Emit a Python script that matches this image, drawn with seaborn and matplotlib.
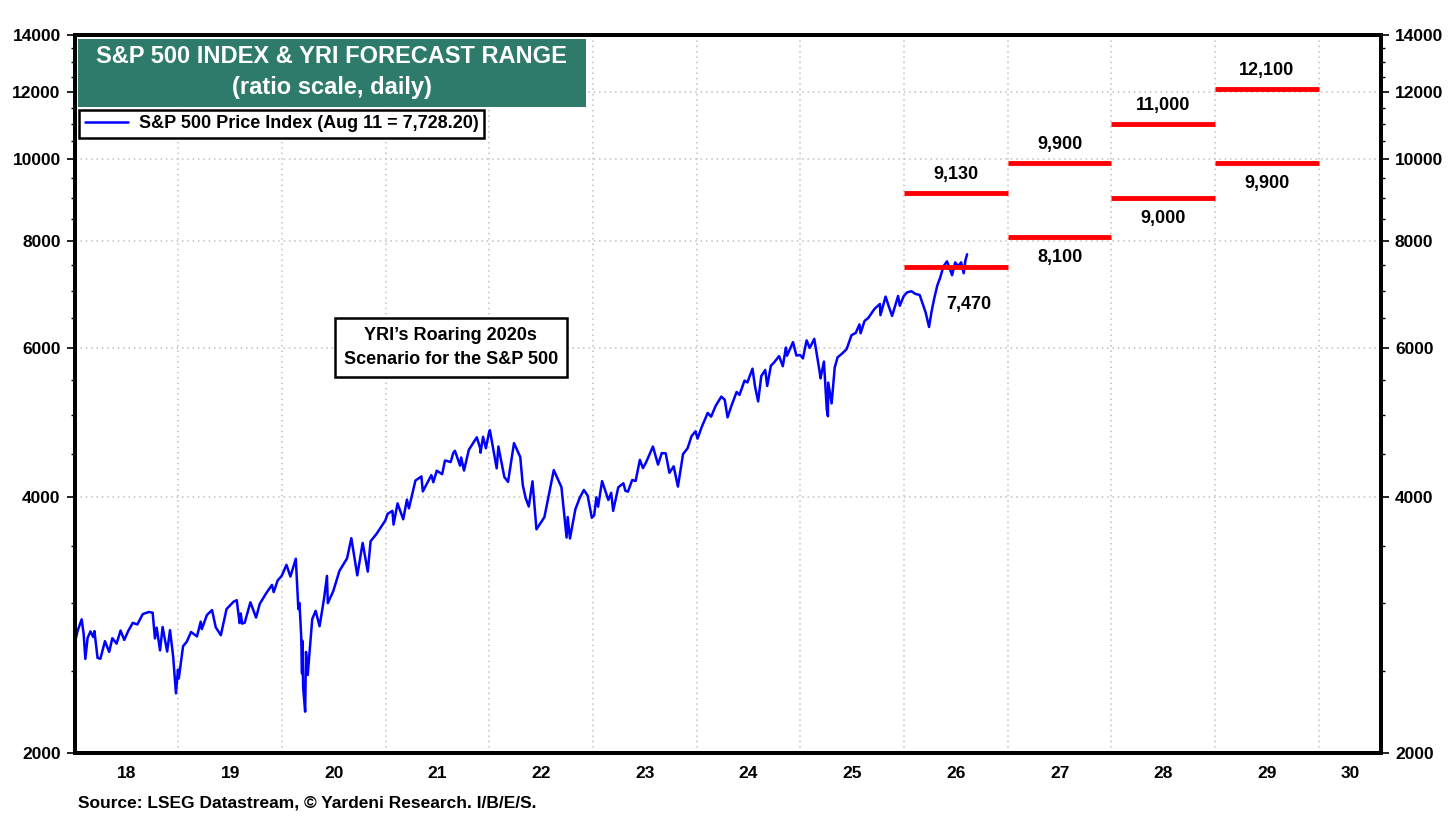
import pandas as pd
import numpy as np
import matplotlib
matplotlib.use("Agg")
import matplotlib.pyplot as plt
import matplotlib.transforms as mtransforms
from matplotlib.patches import Rectangle
from matplotlib.ticker import FixedLocator, NullFormatter
import seaborn as sns

# -------------------------------
# DATA
# -------------------------------
dates = [
    "2018-01-02", "2018-01-12", "2018-01-26", "2018-02-02", "2018-02-08", "2018-02-16", "2018-02-26",
    "2018-03-08", "2018-03-12", "2018-03-23", "2018-04-02", "2018-04-18", "2018-05-03", "2018-05-14",
    "2018-05-29", "2018-06-12", "2018-06-25", "2018-07-09", "2018-07-25", "2018-08-10", "2018-08-29",
    "2018-09-20", "2018-10-03", "2018-10-11", "2018-10-17", "2018-10-29", "2018-11-07", "2018-11-23",
    "2018-12-03", "2018-12-14", "2018-12-24", "2018-12-31",
    "2019-01-03", "2019-01-18", "2019-01-31", "2019-02-15", "2019-03-08", "2019-03-21", "2019-03-25",
    "2019-04-12", "2019-04-30", "2019-05-13", "2019-05-31", "2019-06-20", "2019-07-15", "2019-07-26",
    "2019-08-05", "2019-08-09", "2019-08-14", "2019-08-23", "2019-09-12", "2019-10-02", "2019-10-15",
    "2019-11-07", "2019-11-27", "2019-12-03", "2019-12-17", "2019-12-31",
    "2020-01-17", "2020-01-31", "2020-02-19", "2020-02-28", "2020-03-03", "2020-03-09", "2020-03-12",
    "2020-03-13", "2020-03-16", "2020-03-23", "2020-03-26", "2020-04-01", "2020-04-17", "2020-04-29",
    "2020-05-13", "2020-05-29", "2020-06-08", "2020-06-11", "2020-06-30", "2020-07-22", "2020-08-18",
    "2020-09-02", "2020-09-23", "2020-10-12", "2020-10-30", "2020-11-09", "2020-11-30", "2020-12-31",
    "2021-01-08", "2021-01-25", "2021-01-29", "2021-02-12", "2021-03-04", "2021-03-17", "2021-03-24",
    "2021-04-16", "2021-05-07", "2021-05-12", "2021-06-11", "2021-06-18", "2021-06-30", "2021-07-19",
    "2021-07-29", "2021-08-18", "2021-08-27", "2021-09-02", "2021-09-20", "2021-09-24", "2021-10-04",
    "2021-10-21", "2021-11-18", "2021-11-30", "2021-12-01", "2021-12-10", "2021-12-20", "2021-12-31",
    "2022-01-03", "2022-01-27", "2022-02-02", "2022-02-23", "2022-03-08", "2022-03-29", "2022-04-20",
    "2022-04-29", "2022-05-09", "2022-05-20", "2022-06-02", "2022-06-16", "2022-07-14", "2022-08-16",
    "2022-09-12", "2022-09-30", "2022-10-04", "2022-10-12", "2022-10-31", "2022-11-15", "2022-11-30",
    "2022-12-13", "2022-12-28",
    "2023-01-05", "2023-01-13", "2023-01-19", "2023-02-02", "2023-02-24", "2023-03-06", "2023-03-13",
    "2023-03-31", "2023-04-18", "2023-04-25", "2023-05-04", "2023-05-19", "2023-05-31", "2023-06-15",
    "2023-06-26", "2023-07-07", "2023-07-31", "2023-08-18", "2023-08-31", "2023-09-14", "2023-09-27",
    "2023-10-12", "2023-10-27", "2023-11-14", "2023-11-30", "2023-12-14", "2023-12-28",
    "2024-01-04", "2024-01-19", "2024-02-09", "2024-02-21", "2024-03-08", "2024-03-28", "2024-04-09",
    "2024-04-19", "2024-05-03", "2024-05-21", "2024-05-31", "2024-06-18", "2024-06-28", "2024-07-16",
    "2024-07-25", "2024-08-05", "2024-08-16", "2024-08-30", "2024-09-06", "2024-09-19", "2024-09-30",
    "2024-10-18", "2024-10-31", "2024-11-11", "2024-11-15", "2024-12-06", "2024-12-18", "2024-12-31",
    "2025-01-10", "2025-01-23", "2025-02-03", "2025-02-19", "2025-03-10", "2025-03-13", "2025-03-25",
    "2025-04-04", "2025-04-08", "2025-04-09", "2025-04-21", "2025-05-02", "2025-05-12", "2025-05-30",
    "2025-06-13", "2025-06-30", "2025-07-15", "2025-07-28", "2025-08-01", "2025-08-15", "2025-08-28",
    "2025-09-19", "2025-10-08", "2025-10-10", "2025-10-28", "2025-11-07", "2025-11-20", "2025-12-11",
    "2025-12-17", "2025-12-31",
    "2026-01-12", "2026-01-27", "2026-02-10", "2026-02-25", "2026-03-06", "2026-03-18", "2026-03-30",
    "2026-04-08", "2026-04-17", "2026-04-28", "2026-05-08", "2026-05-20", "2026-06-01", "2026-06-10",
    "2026-06-19", "2026-06-30", "2026-07-10", "2026-07-21", "2026-07-30", "2026-08-05", "2026-08-11",
]
sp500 = [
    2695, 2786, 2873, 2762, 2581, 2732, 2780,
    2738, 2783, 2588, 2582, 2708, 2630, 2730,
    2690, 2787, 2717, 2784, 2846, 2833, 2914,
    2931, 2925, 2728, 2809, 2641, 2814, 2633,
    2790, 2600, 2351, 2507,
    2448, 2671, 2704, 2776, 2743, 2855, 2798,
    2907, 2946, 2812, 2752, 2954, 3014, 3026,
    2844, 2919, 2840, 2847, 3009, 2887, 2996,
    3085, 3154, 3093, 3193, 3231,
    3330, 3226, 3386, 2954, 3003, 2747, 2481,
    2711, 2386, 2237, 2630, 2471, 2875, 2940,
    2820, 3044, 3232, 3002, 3100, 3276, 3390,
    3580, 3237, 3534, 3270, 3550, 3622, 3756,
    3824, 3855, 3714, 3934, 3768, 3974, 3881,
    4185, 4232, 4063, 4247, 4166, 4298, 4258,
    4419, 4400, 4509, 4537, 4358, 4455, 4300,
    4549, 4705, 4567, 4513, 4712, 4568, 4766,
    4797, 4326, 4589, 4225, 4170, 4632, 4460,
    4132, 3991, 3901, 4176, 3667, 3790, 4305,
    4110, 3586, 3791, 3577, 3872, 3991, 4080,
    4019, 3783,
    3808, 3999, 3899, 4179, 3970, 4048, 3855,
    4109, 4154, 4071, 4061, 4191, 4180, 4426,
    4328, 4398, 4589, 4370, 4508, 4505, 4274,
    4349, 4117, 4496, 4568, 4720, 4783,
    4688, 4840, 5027, 4976, 5124, 5254, 5209,
    4967, 5128, 5321, 5278, 5487, 5460, 5667,
    5400, 5186, 5554, 5648, 5408, 5713, 5762,
    5864, 5705, 6001, 5870, 6090, 5872, 5882,
    5827, 6119, 5994, 6144, 5615, 5521, 5777,
    5074, 4982, 5457, 5158, 5686, 5844, 5912,
    5977, 6205, 6244, 6389, 6238, 6450, 6502,
    6664, 6753, 6552, 6890, 6728, 6538, 6901,
    6721, 6900,
    6970, 6990, 6940, 6920, 6780, 6600, 6345,
    6620, 6850, 7100, 7250, 7480, 7580, 7450,
    7300, 7560, 7480, 7560, 7340, 7600, 7728,
]

forecast_years = [2026, 2027, 2028, 2029]
forecast_high = [9130, 9900, 11000, 12100]
forecast_low = [7470, 8100, 9000, 9900]

year_labels = ["18", "19", "20", "21", "22", "23", "24", "25", "26", "27", "28", "29", "30"]
y_ticks = [2000, 4000, 6000, 8000, 10000, 12000, 14000]

# -------------------------------
# PREP
# -------------------------------
d = pd.to_datetime(pd.Series(dates))
df = pd.DataFrame({
    "year": d.dt.year + (d.dt.dayofyear - 1) / np.where(d.dt.is_leap_year, 366, 365),
    "sp500": sp500,
})

# -------------------------------
# PLOT
# -------------------------------
sns.set_style("white")
plt.rcParams["font.family"] = ["Liberation Sans", "DejaVu Sans"]
plt.rcParams["font.weight"] = "bold"
plt.rcParams["text.color"] = "black"
plt.rcParams["xtick.color"] = "black"
plt.rcParams["ytick.color"] = "black"
plt.rcParams["axes.labelcolor"] = "black"

fig = plt.figure(figsize=(14.56, 8.19), dpi=100)
ax = fig.add_axes([0.0512, 0.0806, 0.8973, 0.8767])

sns.lineplot(data=df, x="year", y="sp500", ax=ax,
             color="#0000ff", lw=1.8, label="S&P 500 Price Index (Aug 11 = 7,728.20)")

ax.set_yscale("log")
ax.set_ylim(2000, 14000)
ax.set_xlim(2018.0, 2030.6)

# forecast ranges
ax.hlines(forecast_high, forecast_years, [y + 1 for y in forecast_years], color="#ff0000", lw=3.5, zorder=4)
ax.hlines(forecast_low, forecast_years, [y + 1 for y in forecast_years], color="#ff0000", lw=3.5, zorder=4)
for yr, hi, lo in zip(forecast_years, forecast_high, forecast_low):
    ax.annotate(f"{hi:,}", (yr + 0.5, hi), xytext=(0, 13), textcoords="offset points",
                ha="center", va="center", fontsize=13, fontweight="bold", color="black")
    if yr == forecast_years[0]:
        ax.annotate(f"{lo:,}", (yr + 0.5, lo), xytext=(9, -27), textcoords="offset points",
                    ha="center", va="center", fontsize=13, fontweight="bold", color="black")
    else:
        ax.annotate(f"{lo:,}", (yr + 0.5, lo), xytext=(0, -15), textcoords="offset points",
                    ha="center", va="center", fontsize=13, fontweight="bold", color="black")

# grid
for yr in range(2019, 2031):
    ax.axvline(yr, color="#c0c0c0", ls=(0, (1, 2.5)), lw=1.1, zorder=0)
for v in y_ticks[1:-1]:
    ax.axhline(v, color="#c0c0c0", ls=(0, (1, 2.5)), lw=1.1, zorder=0)

# x axis
ax.set_xticks(range(2018, 2031))
ax.set_xticklabels([])
ax.xaxis.set_minor_locator(FixedLocator([2018 + q / 4 for q in range(0, 51) if q % 4 != 0]))
ax.tick_params(axis="x", which="major", length=8, width=1.5, direction="out")
ax.tick_params(axis="x", which="minor", length=4, width=1.2, direction="out")
trans = mtransforms.blended_transform_factory(ax.transData, ax.transAxes)
for i, lab in enumerate(year_labels):
    xpos = 2018 + i + 0.5 if lab != "30" else 2030.3
    ax.text(xpos, -0.029, lab, transform=trans, ha="center", va="center",
            fontsize=12.5, fontweight="bold", color="black")
ax.set_xlabel("")
ax.set_ylabel("")

# y axes
minor_y = [v for v in range(2500, 14000, 500) if v not in y_ticks]
ax.yaxis.set_major_locator(FixedLocator(y_ticks))
ax.set_yticklabels([str(v) for v in y_ticks], fontsize=12.5, fontweight="bold")
ax.yaxis.set_minor_locator(FixedLocator(minor_y))
ax.yaxis.set_minor_formatter(NullFormatter())
ax.tick_params(axis="y", which="major", length=6, width=1.2, pad=4)
ax.tick_params(axis="y", which="minor", length=3, width=1)

ax2 = ax.twinx()
ax2.set_yscale("log")
ax2.set_ylim(2000, 14000)
ax2.yaxis.set_major_locator(FixedLocator(y_ticks))
ax2.set_yticklabels([str(v) for v in y_ticks], fontsize=12.5, fontweight="bold")
ax2.yaxis.set_minor_locator(FixedLocator(minor_y))
ax2.yaxis.set_minor_formatter(NullFormatter())
ax2.tick_params(axis="y", which="major", length=6, width=1.2, pad=4)
ax2.tick_params(axis="y", which="minor", length=3, width=1)

for a in (ax, ax2):
    for s in a.spines.values():
        s.set_linewidth(2.8)
        s.set_color("black")

# title box
ax.add_patch(Rectangle((0.0027, 0.8997), 0.3888, 0.0947, transform=ax.transAxes,
                       facecolor="#2e7b6c", edgecolor="none", zorder=5))
ax.text(0.197, 0.9694, "S&P 500 INDEX & YRI FORECAST RANGE", transform=ax.transAxes,
        ha="center", va="center", color="white", fontsize=17, fontweight="bold", zorder=6)
ax.text(0.197, 0.9262, "(ratio scale, daily)", transform=ax.transAxes,
        ha="center", va="center", color="white", fontsize=17, fontweight="bold", zorder=6)

# legend
leg = ax.legend(loc="upper left", bbox_to_anchor=(0.0035, 0.8955), frameon=True, fancybox=False,
                edgecolor="black", framealpha=1, borderpad=0.3, handlelength=2.4, handletextpad=0.6,
                prop={"size": 13, "weight": "bold"}, borderaxespad=0)
leg.get_frame().set_linewidth(1.8)
for t in leg.get_texts():
    t.set_color("black")
leg.set_zorder(7)

# scenario note
ax.text(0.288, 0.565, "YRI\u2019s Roaring 2020s\nScenario for the S&P 500", transform=ax.transAxes,
        ha="center", va="center", fontsize=13, fontweight="bold", linespacing=1.55, color="black",
        bbox=dict(boxstyle="square,pad=0.5", facecolor="white", edgecolor="black", lw=1.8))

fig.text(0.0536, 0.0195, "Source: LSEG Datastream, \u00a9 Yardeni Research. I/B/E/S.",
         ha="left", va="center", fontsize=12.5, fontweight="bold", color="black")

fig.savefig("out.png", dpi=100)
